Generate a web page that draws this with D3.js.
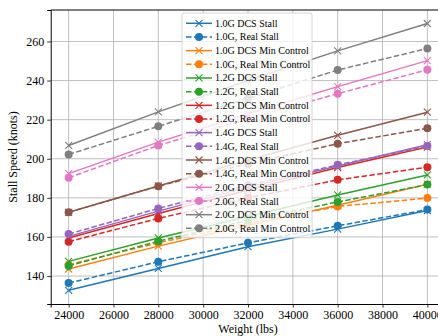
<!DOCTYPE html>
<html><head><meta charset="utf-8">
<script src="https://cdn.jsdelivr.net/npm/d3@7"></script>
<style>body{margin:0;background:#fff}svg{display:block}text{font-family:"Liberation Serif","DejaVu Serif",serif;fill:#000}</style>
</head><body>
<script>
const weights = [24000, 28000, 32000, 36000, 40000];
const xTicks = [24000, 26000, 28000, 30000, 32000, 34000, 36000, 38000, 40000];
const yTicks = [140, 160, 180, 200, 220, 240, 260];
const seriesNames = [
  "1.0G DCS Stall", "1.0G, Real Stall", "1.0G DCS Min Control", "1.0G, Real Min Control",
  "1.2G DCS Stall", "1.2G, Real Stall", "1.2G DCS Min Control", "1.2G, Real Min Control",
  "1.4G DCS Stall", "1.4G, Real Stall", "1.4G DCS Min Control", "1.4G, Real Min Control",
  "2.0G DCS Stall", "2.0G, Real Stall", "2.0G DCS Min Control", "2.0G, Real Min Control"
];
const s10dcsStall = [132.7, 143.9, 155.0, 164.0, 173.5];
const s10realStall = [136.4, 147.3, 157.0, 165.7, 174.0];
const s10dcsMin = [143.6, 155.3, 166.0, 176.2, 187.0];
const s10realMin = [145.8, 157.0, 167.0, 175.6, 179.9];
const s12dcsStall = [147.5, 159.5, 170.5, 181.5, 191.7];
const s12realStall = [145.2, 157.8, 168.5, 177.9, 186.8];
const s12dcsMin = [159.5, 172.0, 184.0, 195.5, 206.0];
const s12realMin = [157.6, 169.5, 180.0, 189.2, 195.7];
const s14dcsStall = [160.3, 173.2, 185.5, 196.3, 207.2];
const s14realStall = [161.5, 174.6, 186.5, 196.9, 206.5];
const s14dcsMin = [172.6, 186.1, 199.3, 212.0, 223.8];
const s14realMin = [172.6, 186.0, 197.5, 207.7, 215.6];
const s20dcsStall = [192.4, 208.5, 223.0, 236.9, 250.2];
const s20realStall = [190.3, 206.8, 220.5, 233.3, 245.5];
const s20dcsMin = [206.8, 224.0, 240.0, 255.2, 269.2];
const s20realMin = [202.2, 216.6, 231.0, 245.4, 256.4];
const seriesValues = [s10dcsStall, s10realStall, s10dcsMin, s10realMin, s12dcsStall, s12realStall, s12dcsMin, s12realMin,
  s14dcsStall, s14realStall, s14dcsMin, s14realMin, s20dcsStall, s20realStall, s20dcsMin, s20realMin];
const colors = ["#1f77b4","#ff7f0e","#2ca02c","#d62728","#9467bd","#8c564b","#e377c2","#7f7f7f"];

const W = 438, H = 336;
const svg = d3.select("body").append("svg").attr("width", W).attr("height", H);
const L = 50.7, T = 10, B = 304, R = 445.3;
const x = d3.scaleLinear().domain([23200, 40800]).range([L, R]);
const y = d3.scaleLinear().domain([125.7, 276.1]).range([B, T]);

// grid
const g = svg.append("g");
g.selectAll(".vg").data(xTicks).join("line").attr("x1", d => x(d)).attr("x2", d => x(d))
  .attr("y1", T).attr("y2", B).attr("stroke", "#b0b0b0").attr("stroke-width", 0.8);
g.selectAll(".hg").data(yTicks).join("line").attr("y1", d => y(d)).attr("y2", d => y(d))
  .attr("x1", L).attr("x2", R).attr("stroke", "#b0b0b0").attr("stroke-width", 0.8);

// series
const line = d3.line().x((d, i) => x(weights[i])).y(d => y(d));
seriesValues.forEach((vals, k) => {
  const c = colors[Math.floor(k / 2)];
  const real = k % 2 === 1;
  const sg = svg.append("g");
  sg.append("path").attr("d", line(vals)).attr("fill", "none").attr("stroke", c)
    .attr("stroke-width", 1.5).attr("stroke-dasharray", real ? "5.5,2.4" : null);
  vals.forEach((v, i) => {
    const cx = x(weights[i]), cy = y(v);
    if (real) {
      sg.append("circle").attr("cx", cx).attr("cy", cy).attr("r", 4).attr("fill", c);
    } else {
      const s = 3.5;
      sg.append("path").attr("d", `M${cx-s},${cy-s}L${cx+s},${cy+s}M${cx-s},${cy+s}L${cx+s},${cy-s}`)
        .attr("stroke", c).attr("stroke-width", 1.1);
    }
  });
});

// axes
const xAxis = svg.append("g").attr("transform", `translate(0,${B})`)
  .call(d3.axisBottom(x).tickValues(xTicks).tickFormat(d3.format("d")).tickSize(3.5).tickPadding(3));
const yAxis = svg.append("g").attr("transform", `translate(${L},0)`)
  .call(d3.axisLeft(y).tickValues(yTicks).tickSize(3.5).tickPadding(3));
[xAxis, yAxis].forEach(a => {
  a.select(".domain").attr("stroke", "#000").attr("stroke-width", 1);
  a.selectAll(".tick line").attr("stroke", "#000").attr("stroke-width", 0.8);
  a.selectAll("text").attr("font-size", 12).attr("font-family", "Liberation Serif");
});
svg.append("line").attr("x1", L).attr("x2", R).attr("y1", T).attr("y2", T).attr("stroke", "#000").attr("stroke-width", 1);

svg.append("text").attr("x", 248).attr("y", 333).attr("text-anchor", "middle")
  .attr("font-size", 12).text("Weight (lbs)");
svg.append("text").attr("transform", `translate(14,${(T + B) / 2}) rotate(-90)`).attr("text-anchor", "middle")
  .attr("dominant-baseline", "middle").attr("font-size", 12).text("Stall Speed (knots)");

// legend
const lg = svg.append("g");
const lx = 182, ly = 13, lw = 130, rowH = 13.67;
lg.append("rect").attr("x", lx).attr("y", ly).attr("width", lw).attr("height", 16 * rowH + 6)
  .attr("rx", 2).attr("fill", "#fff").attr("fill-opacity", 0.8).attr("stroke", "#cccccc").attr("stroke-width", 0.8);
seriesNames.forEach((name, k) => {
  const c = colors[Math.floor(k / 2)];
  const real = k % 2 === 1;
  const cy = ly + 10.3 + k * rowH;
  lg.append("line").attr("x1", lx + 4).attr("x2", lx + 30).attr("y1", cy).attr("y2", cy)
    .attr("stroke", c).attr("stroke-width", 1.5).attr("stroke-dasharray", real ? "5.5,2.4" : null);
  const mx = lx + 17;
  if (real) lg.append("circle").attr("cx", mx).attr("cy", cy).attr("r", 4).attr("fill", c);
  else {
    const s = 3.5;
    lg.append("path").attr("d", `M${mx-s},${cy-s}L${mx+s},${cy+s}M${mx-s},${cy+s}L${mx+s},${cy-s}`)
      .attr("stroke", c).attr("stroke-width", 1.1);
  }
  lg.append("text").attr("x", lx + 33).attr("y", cy).attr("dominant-baseline", "central")
    .attr("font-size", 10).text(name);
});
</script>
</body></html>
